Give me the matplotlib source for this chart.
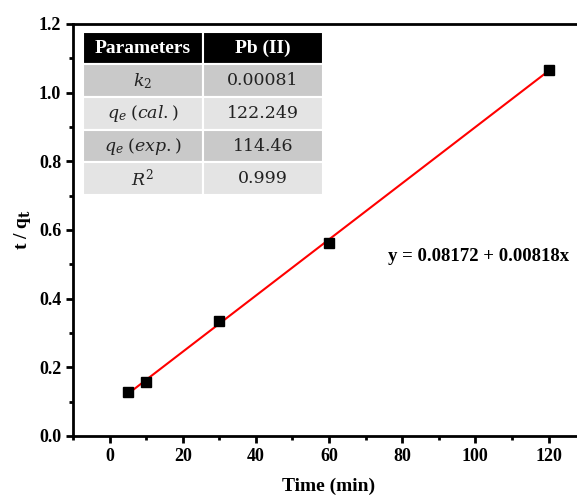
import matplotlib
matplotlib.use("Agg")
import matplotlib.pyplot as plt
from matplotlib.ticker import MultipleLocator

# data
time_min = [5, 10, 30, 60, 120]
t_over_qt = [0.127, 0.157, 0.336, 0.562, 1.066]
intercept = 0.08172
slope = 0.00818

param_names = ["$k_2$", "$q_e\\;(cal.)$", "$q_e\\;(exp.)$", "$R^2$"]
param_values = ["0.00081", "122.249", "114.46", "0.999"]

plt.rcParams['font.family'] = ['Liberation Serif', 'DejaVu Serif']
plt.rcParams['mathtext.fontset'] = 'dejavuserif'

fig = plt.figure(figsize=(5.77, 5.0), dpi=100)
ax = fig.add_axes([0.1265, 0.128, 0.8875, 0.824])

fit_x = [min(time_min), max(time_min)]
fit_y = [intercept + slope * x for x in fit_x]
ax.plot(fit_x, fit_y, color='red', lw=1.5, zorder=2)
ax.plot(time_min, t_over_qt, 's', color='black', ms=7.5, zorder=3)

ax.set_xlim(-10, 130)
ax.set_ylim(0, 1.2)
ax.xaxis.set_major_locator(MultipleLocator(20))
ax.xaxis.set_minor_locator(MultipleLocator(10))
ax.yaxis.set_major_locator(MultipleLocator(0.2))
ax.yaxis.set_minor_locator(MultipleLocator(0.1))
ax.yaxis.set_major_formatter(matplotlib.ticker.FormatStrFormatter('%.1f'))
ax.tick_params(which='major', direction='out', length=5, width=2, labelsize=13)
ax.tick_params(which='minor', direction='out', length=3, width=2)
for lab in ax.get_xticklabels() + ax.get_yticklabels():
    lab.set_fontweight('bold')
for sp in ax.spines.values():
    sp.set_linewidth(2)

ax.set_xlabel("Time (min)", fontsize=14, fontweight='bold', labelpad=9)
ax.set_ylabel("t / q$_\\mathbf{t}$", fontsize=14, fontweight='bold', labelpad=4)

ax.text(0.615, 0.435, "y = 0.08172 + 0.00818x", transform=ax.transAxes,
        fontsize=13.5, fontweight='bold', ha='left', va='center')

cells = [[n, v] for n, v in zip(param_names, param_values)]
tbl = ax.table(cellText=cells, colLabels=["Parameters", "Pb (II)"],
               bbox=[0.0195, 0.585, 0.4685, 0.396], cellLoc='center')
tbl.auto_set_font_size(False)
for (r, c), cell in tbl.get_celld().items():
    cell.set_edgecolor('white')
    cell.set_linewidth(1.5)
    txt = cell.get_text()
    if r == 0:
        cell.set_facecolor('black')
        txt.set_color('white')
        txt.set_fontweight('bold')
        txt.set_fontsize(14)
    else:
        cell.set_facecolor('#c9c9c9' if r % 2 == 1 else '#e4e4e4')
        txt.set_color('#222222')
        txt.set_fontfamily('DejaVu Serif')
        txt.set_fontsize(12.5)

fig.savefig("out.png", dpi=100)
